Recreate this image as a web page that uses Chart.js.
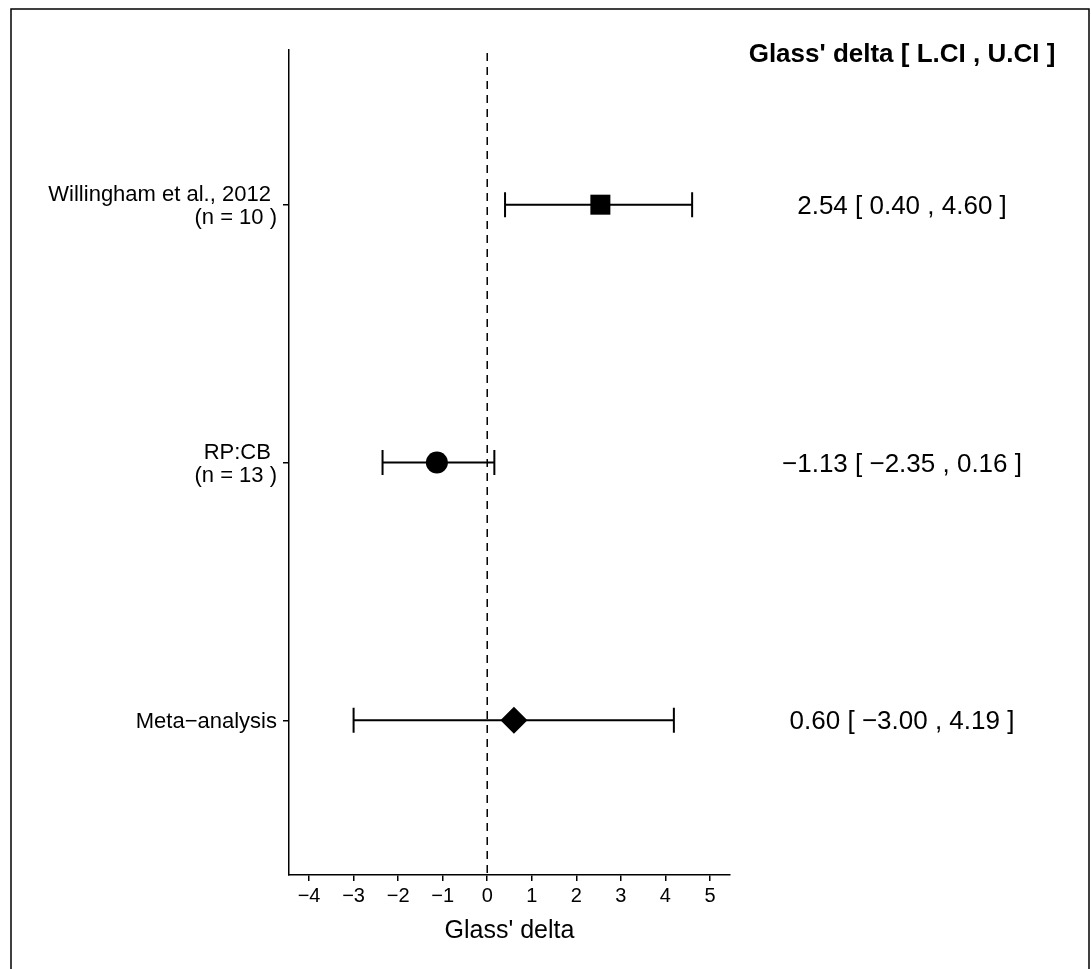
<!DOCTYPE html>
<html>
<head>
<meta charset="utf-8">
<script src="https://cdn.jsdelivr.net/npm/chart.js@4"></script>
<style>
  html, body { margin: 0; padding: 0; background: #ffffff; }
  #wrap { width: 1091px; height: 969px; position: relative; }
</style>
</head>
<body>
<div id="wrap"><canvas id="c" width="1091" height="969"></canvas></div>
<script>
// ---- data ----
const studyLabels = [
  ["Willingham et al., 2012 ", "(n = 10 )"],
  ["RP:CB ", "(n = 13 )"],
  ["Meta\u2212analysis"]
];
const rowPositions = [1, 2, 3];
const estimates = [2.54, -1.13, 0.60];
const lowerCI = [0.40, -2.35, -3.00];
const upperCI = [4.60, 0.16, 4.19];
const markerStyles = ["rect", "circle", "rectRot"];
const xTickValues = [-4, -3, -2, -1, 0, 1, 2, 3, 4, 5];
const xTitle = "Glass' delta";
const columnHeader = "Glass' delta [ L.CI , U.CI ]";

const FONT = "'Liberation Sans', Arial, Helvetica, sans-serif";
const fmt = v => (v < 0 ? "\u2212" : "") + Math.abs(v).toFixed(2);
const fmtTick = v => (v < 0 ? "\u2212" : "") + Math.abs(v);

const forestPlugin = {
  id: "forest",
  beforeDatasetsDraw(chart) {
    const ctx = chart.ctx;
    const xs = chart.scales.x, ys = chart.scales.y;
    const area = chart.chartArea;
    ctx.save();
    // zero reference line
    ctx.strokeStyle = "#000";
    ctx.lineWidth = 1.5;
    ctx.setLineDash([8, 6]);
    const x0 = xs.getPixelForValue(0);
    ctx.beginPath();
    ctx.moveTo(x0, area.top + 3);
    ctx.lineTo(x0, area.bottom);
    ctx.stroke();
    ctx.setLineDash([]);
    // confidence intervals
    ctx.lineWidth = 2;
    for (let i = 0; i < estimates.length; i++) {
      const y = ys.getPixelForValue(rowPositions[i]);
      const xl = xs.getPixelForValue(lowerCI[i]);
      const xu = xs.getPixelForValue(upperCI[i]);
      ctx.beginPath();
      ctx.moveTo(xl, y); ctx.lineTo(xu, y);
      ctx.moveTo(xl, y - 12.5); ctx.lineTo(xl, y + 12.5);
      ctx.moveTo(xu, y - 12.5); ctx.lineTo(xu, y + 12.5);
      ctx.stroke();
    }
    ctx.restore();
  },
  afterDraw(chart) {
    const ctx = chart.ctx;
    const ys = chart.scales.y;
    ctx.save();
    // outer frame (left, top, right)
    ctx.strokeStyle = "#000";
    ctx.lineWidth = 1.5;
    ctx.beginPath();
    ctx.moveTo(11, 975);
    ctx.lineTo(11, 9);
    ctx.lineTo(1089, 9);
    ctx.lineTo(1089, 975);
    ctx.stroke();
    // column header
    ctx.fillStyle = "#000";
    ctx.textAlign = "center";
    ctx.textBaseline = "middle";
    ctx.font = "bold 26px " + FONT;
    ctx.fillText(columnHeader, 902, 55);
    // value column
    ctx.font = "26px " + FONT;
    for (let i = 0; i < estimates.length; i++) {
      const y = ys.getPixelForValue(rowPositions[i]);
      const txt = fmt(estimates[i]) + " [ " + fmt(lowerCI[i]) + " , " + fmt(upperCI[i]) + " ]";
      ctx.fillText(txt, 902, y + 2);
    }
    ctx.restore();
  }
};

new Chart(document.getElementById("c"), {
  type: "scatter",
  data: {
    datasets: [{
      data: estimates.map((v, i) => ({ x: v, y: rowPositions[i] })),
      pointStyle: markerStyles,
      pointRadius: [14.14, 11, 13.5],
      pointBackgroundColor: "#000",
      pointBorderColor: "#000",
      pointBorderWidth: 0,
      showLine: false
    }]
  },
  options: {
    responsive: false,
    animation: false,
    events: [],
    layout: { padding: { left: 0, top: 50, right: 361, bottom: 23 } },
    plugins: { legend: { display: false }, tooltip: { enabled: false } },
    scales: {
      x: {
        type: "linear",
        min: -4.45,
        max: 5.45,
        afterBuildTicks: s => { s.ticks = xTickValues.map(v => ({ value: v })); },
        afterFit: s => { s.height = 71; },
        grid: { drawOnChartArea: false, drawTicks: true, tickLength: 6, color: "#000", lineWidth: 1.5 },
        border: { display: true, color: "#000", width: 1.5 },
        ticks: {
          color: "#000",
          padding: 3,
          maxRotation: 0,
          autoSkip: false,
          font: { family: FONT, size: 20 },
          callback: v => fmtTick(v)
        },
        title: {
          display: true,
          text: xTitle,
          color: "#000",
          padding: { top: 0, bottom: 0 },
          font: { family: FONT, size: 25 }
        }
      },
      y: {
        type: "linear",
        min: 0.4,
        max: 3.6,
        reverse: true,
        afterBuildTicks: s => { s.ticks = rowPositions.map(v => ({ value: v })); },
        afterFit: s => { s.width = 289; },
        grid: { drawOnChartArea: false, drawTicks: true, tickLength: 6, color: "#000", lineWidth: 1.5 },
        border: { display: true, color: "#000", width: 1.5 },
        ticks: {
          color: "#000",
          padding: 6,
          labelOffset: 2,
          autoSkip: false,
          font: { family: FONT, size: 22, lineHeight: 1.05 },
          callback: v => studyLabels[rowPositions.indexOf(v)]
        }
      }
    }
  },
  plugins: [forestPlugin]
});
</script>
</body>
</html>
